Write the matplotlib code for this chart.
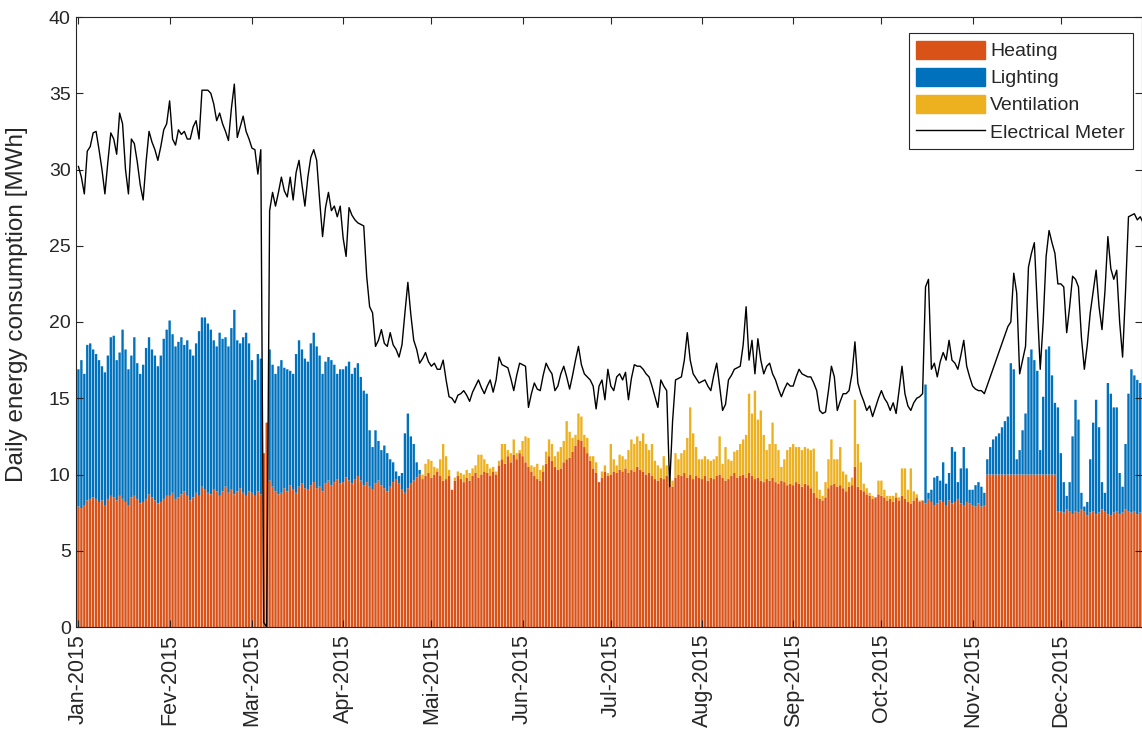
import numpy as np
import pandas as pd
import matplotlib
matplotlib.use('Agg')
import matplotlib.pyplot as plt
import matplotlib.dates as mdates
from matplotlib.patches import Patch
from matplotlib.lines import Line2D

# daily values, 2015, one row per month
heating = [
    7.9, 7.8, 8.0, 8.3, 8.4, 8.5, 8.4, 8.2, 8.3, 8.0, 8.4, 8.6, 8.5, 8.3, 8.6, 8.4, 8.2, 8.0, 8.5, 8.6, 8.4, 8.1, 8.2, 8.4, 8.7, 8.5, 8.3, 8.1, 8.2, 8.4, 8.6,
    8.6, 8.8, 8.4, 8.5, 8.7, 8.9, 8.6, 8.3, 8.5, 8.8, 8.6, 9.2, 9.0, 8.8, 8.7, 9.0, 8.9, 8.6, 8.9, 9.2, 8.8, 9.0, 8.7, 8.9, 9.1, 8.8, 8.6, 8.9,
    8.8, 8.6, 8.9, 8.7, 11.4, 13.4, 9.6, 9.2, 8.9, 8.7, 8.8, 9.1, 8.9, 9.3, 9.0, 8.8, 9.2, 9.4, 9.1, 9.0, 9.3, 9.5, 9.1, 9.2, 8.9, 9.4, 9.6, 9.3, 9.5, 9.7, 9.4,
    9.5, 9.8, 9.6, 9.4, 9.7, 9.9, 9.6, 9.3, 9.5, 9.2, 9.0, 9.4, 9.6, 9.3, 9.1, 8.9, 9.2, 9.5, 9.7, 9.4, 9.0, 8.8, 9.1, 9.4, 9.6, 9.8, 10.0, 9.7, 9.9, 10.1,
    9.8, 10.0, 10.2, 9.9, 9.6, 9.7, 9.9, 9.0, 9.6, 9.9, 9.7, 9.5, 9.8, 9.6, 9.9, 10.1, 9.8, 10.0, 10.2, 10.1, 9.9, 10.2, 10.0, 10.6, 11.0, 10.7, 11.2, 10.8, 11.3, 11.0, 11.4,
    11.2, 10.8, 10.5, 10.2, 9.9, 9.7, 9.6, 10.2, 10.7, 11.2, 10.9, 10.5, 10.3, 10.4, 10.8, 11.0, 11.1, 11.5, 11.9, 12.3, 12.2, 11.8, 11.4, 10.9, 10.4, 10.1, 9.5, 9.8, 10.2, 9.9,
    10.0, 10.2, 10.1, 10.3, 10.2, 10.4, 10.1, 10.3, 10.2, 10.5, 10.3, 10.2, 10.0, 10.1, 9.9, 9.7, 9.6, 9.8, 9.7, 9.9, 9.4, 9.2, 9.8, 10.0, 9.9, 10.1, 9.8, 10.0, 9.7, 9.9, 9.8,
    9.7, 9.9, 9.6, 9.8, 9.7, 9.9, 10.0, 9.8, 9.6, 9.7, 9.9, 10.1, 9.8, 9.9, 10.0, 9.8, 10.1, 9.9, 9.7, 9.8, 9.6, 9.5, 9.7, 9.6, 9.8, 9.5, 9.4, 9.6, 9.5, 9.3, 9.4,
    9.3, 9.5, 9.4, 9.2, 9.4, 9.3, 9.1, 8.8, 8.5, 8.4, 8.3, 8.5, 9.1, 9.3, 9.4, 9.2, 9.3, 9.1, 8.9, 9.2, 9.3, 10.5, 9.2, 9.0, 8.9, 8.7, 8.6, 8.4, 8.5, 8.7,
    8.6, 8.5, 8.3, 8.4, 8.2, 8.5, 8.3, 8.6, 8.4, 8.2, 8.1, 8.3, 8.5, 8.2, 8.3, 8.1, 8.4, 8.2, 8.0, 8.1, 8.3, 8.2, 8.0, 8.3, 8.1, 8.2, 8.4, 8.1, 8.0, 8.2, 8.1,
    8.0, 7.9, 8.1, 7.9, 8.0, 10.0, 10.0, 10.0, 10.0, 10.0, 10.0, 10.0, 10.0, 10.0, 10.0, 10.0, 10.0, 10.0, 10.0, 10.0, 10.0, 10.0, 10.0, 10.0, 10.0, 10.0, 10.0, 10.0, 10.0, 7.6,
    7.6, 7.5, 7.7, 7.6, 7.4, 7.6, 7.5, 7.7, 7.6, 7.3, 7.5, 7.6, 7.4, 7.5, 7.7, 7.6, 7.4, 7.3, 7.5, 7.6, 7.4, 7.5, 7.7, 7.6, 7.5, 7.6, 7.4, 7.5, 7.6, 7.5, 7.6,
]

lighting = [
    9.0, 9.7, 8.6, 10.2, 10.2, 9.7, 9.5, 9.3, 8.8, 8.7, 9.4, 10.4, 10.6, 9.2, 9.4, 11.1, 10.0, 8.9, 9.3, 10.4, 8.9, 8.5, 9.0, 9.9, 10.3, 9.7, 9.5, 9.0, 9.6, 10.5, 10.9,
    11.5, 10.4, 10.0, 10.2, 10.3, 9.6, 10.2, 9.9, 9.3, 9.8, 10.8, 11.1, 11.3, 11.1, 10.8, 9.8, 9.5, 10.7, 10.0, 9.8, 9.6, 10.6, 12.1, 9.9, 9.5, 10.2, 10.7, 9.7,
    8.7, 7.6, 9.0, 8.9, 0, 0, 8.6, 8.0, 7.7, 8.4, 8.7, 7.9, 8.0, 7.5, 7.6, 9.1, 9.6, 8.8, 8.5, 8.4, 9.3, 9.8, 9.3, 8.6, 7.7, 8.0, 8.1, 8.2, 7.7, 6.9, 7.5,
    7.4, 7.3, 7.8, 7.2, 7.3, 7.4, 6.8, 6.2, 5.8, 3.7, 2.8, 3.5, 2.6, 2.3, 2.8, 2.5, 1.8, 1.3, 0.5, 0.5, 1.1, 3.9, 4.9, 3.1, 2.4, 1.0, 0.3, 0, 0, 0,
    0, 0, 0, 0, 0, 0, 0, 0, 0, 0, 0, 0, 0, 0, 0, 0, 0, 0, 0, 0, 0, 0, 0, 0, 0, 0, 0, 0, 0, 0, 0,
    0, 0, 0, 0, 0, 0, 0, 0, 0, 0, 0, 0, 0, 0, 0, 0, 0, 0, 0, 0, 0, 0, 0, 0, 0, 0, 0, 0, 0, 0,
    0, 0, 0, 0, 0, 0, 0, 0, 0, 0, 0, 0, 0, 0, 0, 0, 0, 0, 0, 0, 0, 0, 0, 0, 0, 0, 0, 0, 0, 0, 0,
    0, 0, 0, 0, 0, 0, 0, 0, 0, 0, 0, 0, 0, 0, 0, 0, 0, 0, 0, 0, 0, 0, 0, 0, 0, 0, 0, 0, 0, 0, 0,
    0, 0, 0, 0, 0, 0, 0, 0, 0, 0, 0, 0, 0, 0, 0, 0, 0, 0, 0, 0, 0, 0, 0, 0, 0, 0, 0, 0, 0, 0,
    0, 0, 0, 0, 0, 0, 0, 0, 0, 0, 0, 0, 0, 0, 0, 7.8, 0.4, 0.8, 1.8, 1.8, 1.3, 2.6, 1.4, 1.8, 3.7, 3.3, 1.1, 2.3, 3.8, 2.2, 0.9,
    1.0, 1.4, 1.4, 1.3, 0.8, 1.0, 1.8, 2.3, 2.5, 2.7, 3.1, 3.5, 3.8, 7.3, 6.9, 1.0, 1.6, 2.9, 4.0, 7.7, 8.2, 7.5, 6.8, 1.6, 5.1, 8.2, 8.4, 6.5, 4.7, 6.8,
    3.8, 2.0, 0.9, 1.9, 5.1, 7.3, 6.1, 1.1, 0.3, 0.9, 3.5, 5.8, 7.5, 5.6, 1.8, 1.2, 8.6, 8.0, 6.9, 6.8, 2.7, 1.7, 4.3, 7.7, 9.4, 8.9, 8.8, 8.5, 8.8, 9.3, 8.9,
]

ventilation = [
    0, 0, 0, 0, 0, 0, 0, 0, 0, 0, 0, 0, 0, 0, 0, 0, 0, 0, 0, 0, 0, 0, 0, 0, 0, 0, 0, 0, 0, 0, 0,
    0, 0, 0, 0, 0, 0, 0, 0, 0, 0, 0, 0, 0, 0, 0, 0, 0, 0, 0, 0, 0, 0, 0, 0, 0, 0, 0, 0,
    0, 0, 0, 0, 0, 0, 0, 0, 0, 0, 0, 0, 0, 0, 0, 0, 0, 0, 0, 0, 0, 0, 0, 0, 0, 0, 0, 0, 0, 0, 0,
    0, 0, 0, 0, 0, 0, 0, 0, 0, 0, 0, 0, 0, 0, 0, 0, 0, 0, 0, 0, 0, 0, 0, 0, 0, 0, 0, 0.3, 0.8, 0.9,
    1.1, 0.5, 0.2, 1.1, 2.4, 1.5, 0.4, 0.0, 0.2, 0.3, 0.4, 0.5, 0.5, 0.5, 0.5, 0.5, 1.5, 1.3, 0.8, 0.6, 0.5, 0.3, 0.2, 0.3, 1.0, 1.3, 0.4, 0.6, 1.0, 0.4, 0.2,
    1.0, 1.7, 1.9, 0.4, 0.6, 1.0, 0.7, 0.4, 0.8, 1.1, 1.1, 0.7, 1.2, 1.4, 1.4, 2.5, 1.7, 0.9, 0.7, 1.7, 1.6, 0.8, 1.0, 0.3, 0.8, 0.7, 0.0, 0.4, 0.4, 0.2,
    2.0, 0.8, 0.5, 1.0, 1.0, 0.6, 1.5, 2.0, 1.8, 2.0, 1.9, 2.5, 2.0, 1.5, 2.1, 1.2, 1.0, 0.6, 1.5, 0.7, 0.4, 0.4, 1.6, 1.0, 1.5, 1.5, 2.6, 4.4, 3.0, 1.9, 1.2,
    1.3, 1.3, 1.4, 1.1, 1.3, 1.3, 2.5, 0.9, 2.2, 1.3, 1.0, 1.4, 1.8, 2.1, 2.3, 2.8, 5.2, 4.1, 5.8, 3.8, 4.6, 3.1, 1.9, 2.4, 3.6, 2.5, 2.2, 0.9, 1.5, 2.3, 2.4,
    2.7, 2.3, 2.4, 2.4, 2.4, 2.4, 2.5, 2.9, 1.7, 0.6, 0.3, 1.0, 1.9, 3.0, 1.6, 1.8, 2.5, 1.1, 1.1, 0.3, 0.5, 4.4, 2.8, 1.8, 0.5, 0.4, 0.2, 0.2, 0.0, 0.9,
    1.0, 0.5, 0.3, 0.2, 0.4, 0.3, 0.2, 1.8, 2.0, 0.8, 2.3, 0.6, 0.2, 0.1, 0, 0, 0, 0, 0, 0, 0, 0, 0, 0, 0, 0, 0, 0, 0, 0, 0,
    0, 0, 0, 0, 0, 0, 0, 0, 0, 0, 0, 0, 0, 0, 0, 0, 0, 0, 0, 0, 0, 0, 0, 0, 0, 0, 0, 0, 0, 0,
    0, 0, 0, 0, 0, 0, 0, 0, 0, 0, 0, 0, 0, 0, 0, 0, 0, 0, 0, 0, 0, 0, 0, 0, 0, 0, 0, 0, 0, 0, 0,
]

nan = np.nan
meter = [
    30.2, 29.5, 28.4, 31.2, 31.5, 32.4, 32.5, 31.3, 30.0, 28.4, 30.5, 32.4, 32.0, 31.0, 33.7, 33.0, 30.0, 28.4, 32.0, 31.7, 30.5, 29.0, 28.0, 30.5, 32.5, 31.8, 31.3, 30.6, 31.5, 32.6, 33.0,
    34.5, 32.0, 31.6, 32.6, 32.3, 32.5, 32.0, 32.0, 32.8, 33.2, 32.0, 35.2, 35.2, 35.2, 35.0, 34.3, 33.2, 33.7, 33.0, 32.5, 31.9, 34.0, 35.6, 32.1, 32.8, 33.5, 32.5, 32.0,
    31.4, 31.3, 29.7, 31.3, 0.3, 0.0, 27.3, 28.5, 27.6, 28.5, 29.5, 28.6, 28.2, 29.5, 28.0, 29.8, 30.6, 29.0, 27.6, 29.5, 30.8, 31.3, 30.6, 28.0, 25.6, 27.5, 28.5, 27.3, 27.6, 26.9, 27.6,
    25.5, 24.3, 27.5, 27.0, 26.7, 26.5, 26.4, 26.3, 23.0, 21.0, 20.6, 18.4, 18.8, 19.5, 18.6, 18.4, 19.3, 18.5, 18.2, 17.7, 18.5, 20.6, 22.6, 20.5, 18.8, 18.2, 17.3, 17.6, 18.0, 17.4,
    17.1, 17.3, 16.9, 16.9, 17.5, 16.2, 15.1, 15.0, 14.7, 15.2, 15.3, 15.5, 15.2, 14.8, 15.4, 15.8, 16.2, 15.7, 15.3, 15.8, 16.2, 15.4, 16.2, 17.7, 17.2, 17.1, 17.0, 16.3, 15.5, 16.5, 17.3,
    17.2, 17.1, 14.4, 15.3, 16.0, 15.6, 15.5, 16.5, 17.3, 16.9, 16.6, 15.5, 15.8, 16.6, 17.1, 16.4, 15.6, 16.5, 17.5, 18.4, 17.2, 16.6, 16.4, 16.2, 15.8, 14.3, 15.8, 16.2, 14.9, 16.9,
    15.8, 15.5, 16.4, 16.6, 16.2, 16.7, 14.9, 16.3, 17.2, 17.1, 17.1, 16.9, 16.6, 16.4, 15.8, 15.1, 14.4, 16.2, 15.8, 15.5, 9.2, 13.5, 16.2, 16.3, 16.4, 17.5, 19.3, 17.5, 16.6, 16.3, 16.0,
    16.1, 16.2, 15.8, 15.5, 16.5, 17.3, 15.8, 14.2, 14.6, 16.2, 16.5, 16.9, 17.0, 17.1, 18.5, 21.0, 17.5, 18.8, 16.6, 18.9, 17.5, 16.6, 17.1, 17.3, 16.6, 16.2, 15.6, 15.1, 15.6, 16.0, 15.8,
    15.8, 16.4, 16.9, 16.6, 16.5, 16.4, 16.4, 16.0, 15.5, 14.2, 14.0, 14.1, 15.5, 17.1, 16.4, 14.2, 14.8, 15.3, 15.3, 15.5, 16.6, 18.7, 16.0, 15.3, 14.8, 14.2, 14.5, 13.8, 14.4, 15.0,
    15.5, 15.0, 14.7, 14.2, 14.7, 14.0, 15.5, 17.1, 15.3, 14.5, 14.2, 14.7, 15.0, 15.1, 15.3, 22.3, 22.8, 16.9, 17.3, 16.4, 17.4, 18.0, 17.5, 18.8, 17.5, 17.3, 16.9, 17.8, 18.8, 17.1, 16.4,
    15.8, 15.6, 15.5, 15.5, 15.3, nan, nan, nan, nan, nan, nan, nan, 19.7, 20.0, 23.2, 21.9, 16.6, 17.5, 18.4, 23.6, 24.5, 25.2, 21.0, 16.9, 20.0, 24.3, 26.0, 25.2, 24.5, 22.5,
    22.5, 22.3, 19.3, 21.0, 23.0, 22.8, 22.3, 19.0, 16.9, 18.5, 20.6, 22.0, 23.4, 21.0, 19.5, 22.0, 25.6, 23.5, 22.8, 23.4, 20.0, 17.7, 22.0, 26.9, 27.0, 27.1, 26.7, 26.9, 26.5, 26.8, 27.0,
]

month_labels = ['Jan-2015', 'Fev-2015', 'Mar-2015', 'Apr-2015', 'Mai-2015', 'Jun-2015',
                'Jul-2015', 'Aug-2015', 'Sep-2015', 'Oct-2015', 'Nov-2015', 'Dec-2015']
series_names = ['Heating', 'Lighting', 'Ventilation', 'Electrical Meter']

plt.rcParams['font.family'] = ['Liberation Sans', 'DejaVu Sans']
txt = '#262626'
c_heat, c_light, c_vent = '#D95319', '#0072BD', '#EDB120'

days = pd.date_range('2015-01-01', '2015-12-31', freq='D')
x = mdates.date2num(days)
h = np.array(heating)
l = np.array(lighting)
v = np.array(ventilation)
m = np.array(meter)

fig = plt.figure(figsize=(11.42, 7.34), dpi=100)
ax = fig.add_axes([75.5 / 1142, 1 - 627 / 734, (1142 - 75.5) / 1142, 610 / 734])

# unsnapped narrow bars, so the white gaps blend in like the original
for vals, base, col in [(h, 0, c_heat), (l, h, c_light), (v, h + l, c_vent)]:
    bars = ax.bar(x, vals, width=0.8, bottom=base, color=col, linewidth=0)
    for b in bars:
        b.set_snap(False)
ok = ~np.isnan(m)
ax.plot(x[ok], m[ok], color='black', lw=1.0)

ax.set_xlim(x[0] - 1.0, x[0] + 361.6)
ax.set_ylim(0, 40)
ax.set_yticks(range(0, 41, 5))
month_starts = mdates.date2num(pd.date_range('2015-01-01', periods=12, freq='MS'))
ax.set_xticks(month_starts)
ax.set_xticklabels(month_labels, rotation=90)
ax.tick_params(direction='in', length=5, width=0.8, top=True, right=True,
               colors=txt, labelcolor=txt)
ax.tick_params(axis='y', labelsize=14)
ax.tick_params(axis='x', labelsize=15.5, pad=5)
for s in ax.spines.values():
    s.set_color(txt)
    s.set_linewidth(0.8)

ax.set_ylabel('Daily energy consumption [MWh]', fontsize=17.5, color=txt)
ax.yaxis.set_label_coords(-0.0445, 0.53)

handles = [Patch(facecolor=c_heat, edgecolor=c_heat),
           Patch(facecolor=c_light, edgecolor=c_light),
           Patch(facecolor=c_vent, edgecolor=c_vent),
           Line2D([], [], color='black', lw=1.0)]
leg = ax.legend(handles, series_names, loc='upper right', bbox_to_anchor=(0.9916, 0.9738),
                borderaxespad=0, fontsize=14, handlelength=3.5, handleheight=1.05,
                labelspacing=0.38, handletextpad=0.3, borderpad=0.4,
                fancybox=False, framealpha=1, edgecolor=txt)
leg.get_frame().set_linewidth(0.8)
for t in leg.get_texts():
    t.set_color(txt)

fig.savefig('out.png', dpi=100)
